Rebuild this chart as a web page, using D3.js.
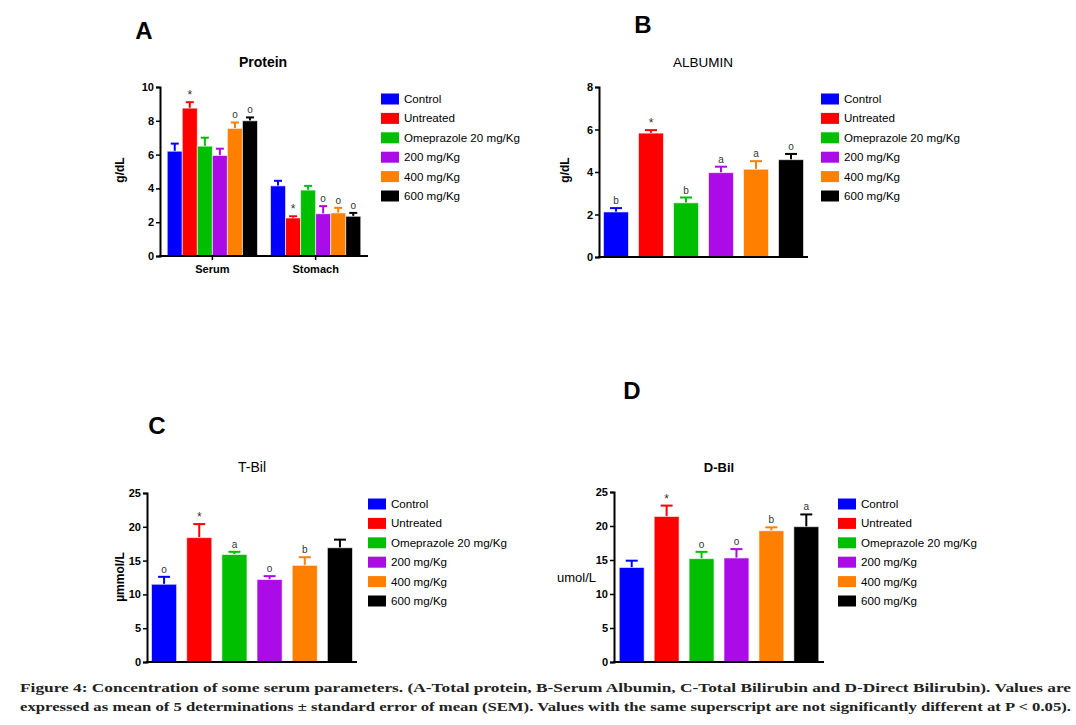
<!DOCTYPE html>
<html><head><meta charset="utf-8">
<script src="https://cdn.jsdelivr.net/npm/d3@7"></script>
<style>body{margin:0;background:#fff}svg{display:block}</style>
</head><body>
<svg id="c" width="1076" height="725"></svg>
<script>
// ---------- DATA ----------
const groups = ["Control","Untreated","Omeprazole 20 mg/Kg","200 mg/Kg","400 mg/Kg","600 mg/Kg"];
const colors = ["#0000ff","#ff0000","#00bf00","#aa0be6","#ff8000","#000000"];

const proteinCategories = ["Serum","Stomach"];
const proteinSerum     = [6.2, 8.75, 6.5, 5.95, 7.55, 8.0];
const proteinSerumErr  = [0.45, 0.35, 0.5, 0.4, 0.35, 0.2];
const proteinSerumSig  = ["", "*", "", "", "o", "o"];
const proteinStomach    = [4.15, 2.25, 3.9, 2.5, 2.55, 2.35];
const proteinStomachErr = [0.3, 0.1, 0.25, 0.45, 0.3, 0.2];
const proteinStomachSig = ["", "*", "", "o", "o", "o"];
const proteinTicks = [0,2,4,6,8,10];

const albumin    = [2.12, 5.83, 2.55, 3.97, 4.13, 4.58];
const albuminErr = [0.18, 0.14, 0.25, 0.28, 0.38, 0.27];
const albuminSig = ["b", "*", "b", "a", "a", "o"];
const albuminTicks = [0,2,4,6,8];

const tbil    = [11.5, 18.4, 15.9, 12.2, 14.3, 16.9];
const tbilErr = [1.1, 2.0, 0.4, 0.5, 1.2, 1.2];
const tbilSig = ["o", "*", "a", "o", "b", ""];

const dbil    = [13.9, 21.4, 15.2, 15.3, 19.3, 19.9];
const dbilErr = [1.0, 1.6, 1.0, 1.3, 0.5, 1.8];
const dbilSig = ["", "*", "o", "o", "b", "a"];
const bilTicks = [0,5,10,15,20,25];

const captionLines = [
  "Figure 4: Concentration of some serum parameters. (A-Total protein, B-Serum Albumin, C-Total Bilirubin and D-Direct Bilirubin). Values are",
  "expressed as mean of 5 determinations \u00b1 standard error of mean (SEM). Values with the same superscript are not significantly different at P < 0.05)."
];

// ---------- DRAW ----------
const svg = d3.select("#c");
const F = "Liberation Sans, Arial, sans-serif";

function axes(g, y, ticks, x0, x1, y0) {
  const ax = g.append("g").attr("transform", `translate(${x0},0)`)
    .call(d3.axisLeft(y).tickValues(ticks).tickSize(4).tickPadding(2).tickFormat(d3.format("d")));
  ax.select(".domain").attr("stroke","#000").attr("stroke-width",2);
  ax.selectAll(".tick line").attr("stroke","#000").attr("stroke-width",1.5);
  ax.selectAll(".tick text").attr("font-family",F).attr("font-size",11).attr("font-weight","bold").attr("fill","#000");
  g.append("line").attr("x1",x0-1).attr("x2",x1).attr("y1",y0).attr("y2",y0).attr("stroke","#000").attr("stroke-width",2);
}

function bars(g, xs, y, vals, errs, sigs, capHalf, sigSize) {
  const bw = xs.bandwidth();
  vals.forEach((v,i) => {
    const x = xs(groups[i]);
    g.append("line").attr("x1",x+bw/2).attr("x2",x+bw/2).attr("y1",y(v)).attr("y2",y(v+errs[i]))
      .attr("stroke",colors[i]).attr("stroke-width",2);
    g.append("line").attr("x1",x+bw/2-capHalf).attr("x2",x+bw/2+capHalf).attr("y1",y(v+errs[i])).attr("y2",y(v+errs[i]))
      .attr("stroke",colors[i]).attr("stroke-width",2);
    g.append("rect").attr("x",x).attr("y",y(v)).attr("width",bw).attr("height",y(0)-y(v))
      .attr("fill",colors[i]).attr("stroke","#fff").attr("stroke-opacity",0.6).attr("stroke-width",1);
    if (sigs[i]) {
      const isStar = sigs[i] === "*";
      g.append("text").attr("x",x+bw/2).attr("y",y(v+errs[i]) - (isStar?3:4))
        .attr("text-anchor","middle").attr("font-family",F).attr("font-size",isStar?sigSize+2:sigSize)
        .attr("fill","#333").text(sigs[i]);
    }
  });
}

function legend(g, x, y) {
  groups.forEach((d,i) => {
    const yy = y + i*19.4;
    g.append("rect").attr("x",x).attr("y",yy-5.5).attr("width",18).attr("height",11).attr("fill",colors[i]);
    g.append("text").attr("x",x+23).attr("y",yy).attr("dy","0.35em").attr("font-family",F).attr("font-size",11.6).attr("fill","#000").text(d);
  });
}

function label(g, txt, x, y, size, weight) {
  g.append("text").attr("x",x).attr("y",y).attr("text-anchor","middle").attr("font-family",F)
    .attr("font-size",size).attr("font-weight",weight||"bold").attr("fill","#000").text(txt);
}
function ylabel(g, txt, x, y) {
  g.append("text").attr("transform",`translate(${x},${y}) rotate(-90)`).attr("text-anchor","middle")
    .attr("font-family",F).attr("font-size",12).attr("font-weight","bold").attr("fill","#000").text(txt);
}

// Panel A
{
  const g = svg.append("g");
  const y = d3.scaleLinear().domain([0,10]).range([256,87]);
  const xc = d3.scaleBand().domain(proteinCategories).range([160,368]).paddingInner(0.126).paddingOuter(0.07);
  const xs = d3.scaleBand().domain(groups).range([0, xc.bandwidth()]).padding(0);
  const gs = g.append("g").attr("transform",`translate(${xc("Serum")},0)`);
  bars(gs, xs, y, proteinSerum, proteinSerumErr, proteinSerumSig, 4, 10);
  const gt = g.append("g").attr("transform",`translate(${xc("Stomach")},0)`);
  bars(gt, xs, y, proteinStomach, proteinStomachErr, proteinStomachSig, 4, 10);
  axes(g, y, proteinTicks, 160, 368, 256);
  proteinCategories.forEach(c => {
    const cx = xc(c) + xc.bandwidth()/2;
    g.append("line").attr("x1",cx).attr("x2",cx).attr("y1",256).attr("y2",260).attr("stroke","#000").attr("stroke-width",1.5);
    label(g, c, cx, 273, 11);
  });
  legend(g, 381, 99);
  label(g, "Protein", 263, 67, 14);
  label(g, "A", 144, 39, 24);
  ylabel(g, "g/dL", 124, 170);
}
// Panel B
{
  const g = svg.append("g");
  const y = d3.scaleLinear().domain([0,8]).range([257,87]);
  const xs = d3.scaleBand().domain(groups).range([599,808]).paddingInner(0.286).paddingOuter(0.128);
  bars(g, xs, y, albumin, albuminErr, albuminSig, 6, 10);
  axes(g, y, albuminTicks, 599, 808, 257);
  legend(g, 821, 99);
  label(g, "ALBUMIN", 703, 67, 13.5, "normal");
  label(g, "B", 643, 33, 24);
  ylabel(g, "g/dL", 569, 170);
}
// Panel C
{
  const g = svg.append("g");
  const y = d3.scaleLinear().domain([0,25]).range([662,493]);
  const xs = d3.scaleBand().domain(groups).range([147,357]).paddingInner(0.286).paddingOuter(0.128);
  bars(g, xs, y, tbil, tbilErr, tbilSig, 6, 10);
  axes(g, y, bilTicks, 147, 357, 662);
  legend(g, 368, 504);
  label(g, "T-Bil", 252, 472, 14, "normal");
  label(g, "C", 157, 434, 24);
  ylabel(g, "\u00b5mmol/L", 124, 577);
}
// Panel D
{
  const g = svg.append("g");
  const y = d3.scaleLinear().domain([0,25]).range([662,492]);
  const xs = d3.scaleBand().domain(groups).range([614,824]).paddingInner(0.286).paddingOuter(0.15);
  bars(g, xs, y, dbil, dbilErr, dbilSig, 6, 10);
  axes(g, y, bilTicks, 614, 824, 662);
  legend(g, 838, 504);
  label(g, "D-Bil", 719, 472, 13, "bold");
  label(g, "D", 632, 399, 24);
  g.append("text").attr("x",557).attr("y",577).attr("dy","0.35em").attr("font-family",F).attr("font-size",13).attr("fill","#000").text("umol/L");
}
// Caption
captionLines.forEach((t,i) => {
  svg.append("text").attr("x",20).attr("y",692 + i*19).attr("font-family","Liberation Serif, serif")
    .attr("font-size",13.5).attr("font-weight","bold").attr("fill","#222")
    .attr("textLength",1051).attr("lengthAdjust","spacingAndGlyphs").text(t);
});
</script>
</body></html>
